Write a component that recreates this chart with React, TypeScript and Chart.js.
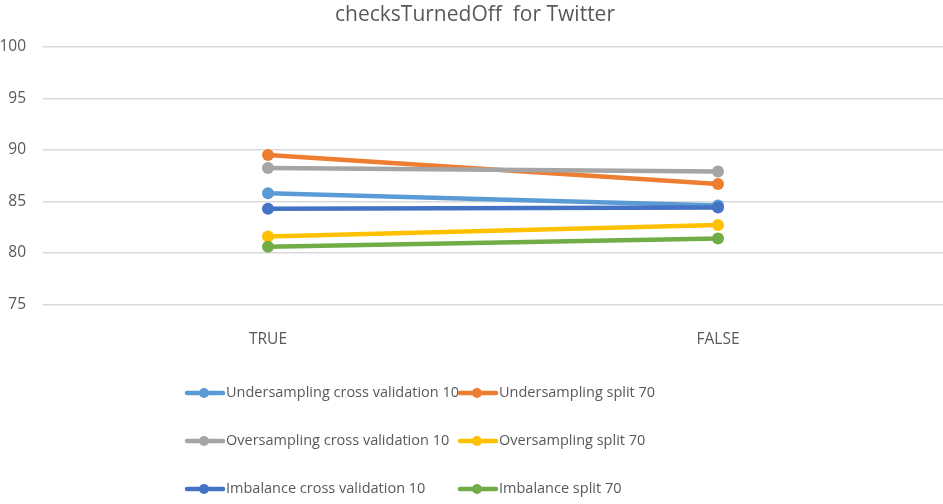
import React, { useEffect, useRef } from "react";
import { Chart, registerables } from "chart.js";

Chart.register(...registerables);

const categories = ["TRUE", "FALSE"];
const seriesNames = [
  "Undersampling cross validation 10",
  "Undersampling split 70",
  "Oversampling cross validation 10",
  "Oversampling split 70",
  "Imbalance cross validation 10",
  "Imbalance split 70",
];
const underCv10 = [85.8, 84.6];
const underSplit70 = [89.5, 86.7];
const overCv10 = [88.25, 87.9];
const overSplit70 = [81.6, 82.7];
const imbCv10 = [84.3, 84.4];
const imbSplit70 = [80.6, 81.4];
const seriesValues = [underCv10, underSplit70, overCv10, overSplit70, imbCv10, imbSplit70];
const seriesColors = ["#5B9BD5", "#ED7D31", "#A5A5A5", "#FFC000", "#4472C4", "#70AD47"];
const yTicks = [75, 80, 85, 90, 95, 100];
const titleText = "checksTurnedOff  for Twitter";

const FONT = "'Open Sans', 'DejaVu Sans', sans-serif";
const TEXT_COLOR = "#595959";

const legendPlugin = {
  id: "gridLegend",
  afterDraw(chart: any) {
    const ctx = chart.ctx;
    const colX = [187, 460];
    const rowY = [393, 441, 489];
    ctx.save();
    ctx.font = `14.5px ${FONT}`;
    ctx.textBaseline = "middle";
    ctx.textAlign = "left";
    chart.data.datasets.forEach((ds: any, i: number) => {
      const x = colX[i % 2];
      const y = rowY[Math.floor(i / 2)];
      ctx.strokeStyle = ds.borderColor;
      ctx.lineWidth = 4.5;
      ctx.lineCap = "round";
      ctx.beginPath();
      ctx.moveTo(x, y);
      ctx.lineTo(x + 36, y);
      ctx.stroke();
      ctx.fillStyle = ds.borderColor;
      ctx.beginPath();
      ctx.arc(x + 17, y, 5, 0, Math.PI * 2);
      ctx.fill();
      ctx.fillStyle = TEXT_COLOR;
      ctx.fillText(ds.label, x + 39, y);
    });
    ctx.restore();
  },
};

export default function App() {
  const ref = useRef<HTMLCanvasElement>(null);
  useEffect(() => {
    if (!ref.current) return;
    const chart = new Chart(ref.current, {
      type: "line",
      data: {
        labels: categories,
        datasets: seriesNames.map((name, i) => ({
          label: name,
          data: seriesValues[i],
          borderColor: seriesColors[i],
          backgroundColor: seriesColors[i],
          borderWidth: 4.5,
          pointRadius: 6,
          pointHoverRadius: 6,
          pointBorderWidth: 0,
          order: seriesNames.length - i,
        })),
      },
      options: {
        animation: false,
        responsive: false,
        maintainAspectRatio: false,
        layout: { autoPadding: false, padding: { top: 47, bottom: 129, left: 0, right: 0 } },
        plugins: {
          legend: { display: false },
          tooltip: { enabled: false },
          title: { display: false },
        },
        scales: {
          x: {
            offset: true,
            afterFit: (axis: any) => {
              axis.paddingLeft = 0;
              axis.paddingRight = 0;
            },
            grid: { display: false, drawTicks: false },
            border: { display: false },
            ticks: { color: TEXT_COLOR, font: { family: FONT, size: 15.5 }, padding: 26 },
          },
          y: {
            min: 75,
            max: 100,
            afterBuildTicks: (axis: any) => {
              axis.ticks = yTicks.map((v) => ({ value: v }));
            },
            afterFit: (axis: any) => {
              axis.width = 43;
            },
            grid: { color: "#D9D9D9", lineWidth: 1.6, drawTicks: false },
            border: { display: false },
            ticks: { color: TEXT_COLOR, font: { family: FONT, size: 15.5 }, padding: 17 },
          },
        },
      },
      plugins: [
        legendPlugin,
        {
          id: "titleText",
          afterDraw(c: any) {
            const ctx = c.ctx;
            ctx.save();
            ctx.font = `21px ${FONT}`;
            ctx.fillStyle = TEXT_COLOR;
            ctx.textAlign = "center";
            ctx.textBaseline = "middle";
            ctx.fillText(titleText, 475, 15);
            ctx.restore();
          },
        },
      ],
    });
    return () => chart.destroy();
  }, []);
  return (
    <div style={{ position: "absolute", left: 0, top: 0, width: 943, height: 504, background: "#fff" }}>
      <canvas ref={ref} width={943} height={504} style={{ width: 943, height: 504, display: "block" }} />
    </div>
  );
}
